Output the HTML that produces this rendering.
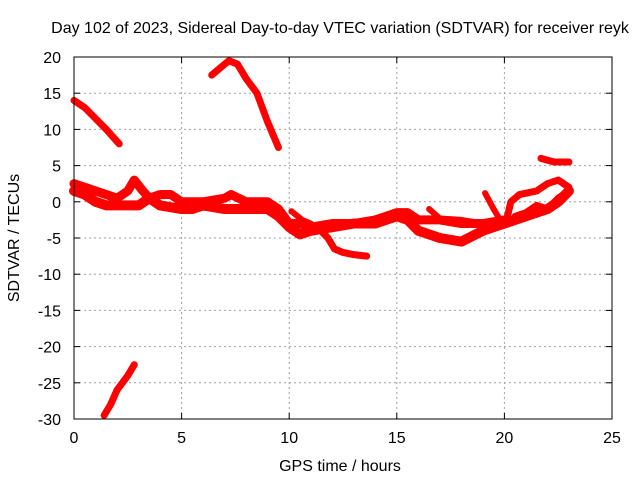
<!DOCTYPE html>
<html><head><meta charset="utf-8"><style>
body{margin:0;background:#fff;width:640px;height:480px;overflow:hidden}
svg{font-family:"Liberation Sans",sans-serif;font-size:16px}
</style></head><body>
<svg id="c" width="640" height="480">
<text x="340" y="33" text-anchor="middle">Day 102 of 2023, Sidereal Day-to-day VTEC variation (SDTVAR) for receiver reyk</text>
<text x="340" y="471" text-anchor="middle">GPS time / hours</text>
<text transform="translate(19,238) rotate(-90)" text-anchor="middle">SDTVAR / TECUs</text>
<g id="grid"></g><g id="ticks"></g><g id="marks"></g>
<rect x="74" y="57" width="538" height="362" fill="none" stroke="#000" stroke-width="1"/>
</svg>
<script>
const xTicks=[0,5,10,15,20,25];
const yTicks=[20,15,10,5,0,-5,-10,-15,-20,-25,-30];
const trackMainUpperH=[0,0.5,1,1.5,2,2.5,2.8,3.2,3.5,4,4.5,5,5.5,6,7,7.3,8,9,9.5,10,10.5,11,12,13,14,15,15.5,16,17,18,19,20];
const trackMainUpperV=[2.5,2,1.5,1,0.5,1.5,3,1.5,0.5,1,1,0,0,0,0.5,1,0,0,-1,-3,-3,-3.5,-3,-3,-2.5,-1.5,-1.5,-2.5,-2.5,-3,-3,-2.5];
const trackMainLowerH=[0,0.5,1,1.5,2,2.5,3,3.5,4,5,5.5,6,7,8,9,9.5,10,10.5,11,12,13,14,15,15.5,16,17,18,19,20,21,22,22.5,23];
const trackMainLowerV=[1.5,1,0,-0.5,-0.5,-0.5,-0.5,0.5,-0.5,-1,-1,-0.5,-1,-1,-1,-2,-3.5,-4.5,-4,-3.5,-3,-3,-2,-2.5,-4,-5,-5.5,-4,-3,-2,-1,0,1.5];
const branchDipH=[11.3,11.8,12.1,12.5,13,13.6];
const branchDipV=[-3.5,-5,-6.5,-7,-7.3,-7.5];
const branchTenH=[10.1,10.6,11];
const branchTenV=[-1.3,-2.5,-3];
const branchSixteenH=[16.5,17,18,19];
const branchSixteenV=[-1,-2.3,-2.5,-3];
const spikeH=[19.1,19.5,19.8,20.1];
const spikeV=[1.2,-1,-2.5,-3];
const loopUpperH=[20.1,20.3,20.7,21.5,22,22.5,23];
const loopUpperV=[-2.5,0,1,1.5,2.5,3,2];
const loopLowerH=[20.5,21,21.5,22,22.5,23];
const loopLowerV=[-2,-1.5,-0.5,-1,0.5,1.5];
const topRightH=[21.7,22.3,23];
const topRightV=[6,5.5,5.5];
const topLeftH=[0,0.5,1,1.5,2.1];
const topLeftV=[14,13,11.5,10,8];
const peakH=[6.4,6.8,7.2,7.6,8,8.5,9,9.5];
const peakV=[17.5,18.5,19.5,19,17,15,11,7.5];
const bottomH=[1.4,1.7,2,2.5,2.8];
const bottomV=[-29.5,-28,-26,-24,-22.5];
const X=h=>74+h*538/25, Y=v=>57+(20-v)*362/50;
const NS="http://www.w3.org/2000/svg";
const g=document.getElementById('grid'),t=document.getElementById('ticks'),m=document.getElementById('marks');
function mk(tag,attrs,p){const e=document.createElementNS(NS,tag);for(const k in attrs)e.setAttribute(k,attrs[k]);p.appendChild(e);return e;}
xTicks.forEach(v=>{const x=X(v);
 if(v>0&&v<25){const l=mk('line',{x1:x,x2:x,y1:57,y2:419,stroke:'#a0a0a0','stroke-dasharray':'2,3'},g);
 
 }
 mk('line',{x1:x,x2:x,y1:419,y2:413,stroke:'#000'},t);mk('line',{x1:x,x2:x,y1:57,y2:63,stroke:'#000'},t);
 const tx=mk('text',{x:x,y:443,'text-anchor':'middle'},t);tx.textContent=v;
 
 });
yTicks.forEach(v=>{const y=Y(v);
 if(v<20&&v>-30){const l=mk('line',{x1:74,x2:612,y1:y,y2:y,stroke:'#a0a0a0','stroke-dasharray':'2,3'},g);
 
 }
 mk('line',{x1:74,x2:80,y1:y,y2:y,stroke:'#000'},t);mk('line',{x1:612,x2:606,y1:y,y2:y,stroke:'#000'},t);
 const tx=mk('text',{x:61,y:y+6,'text-anchor':'end'},t);tx.textContent=v;
 
 });
const series=[[trackMainUpperH,trackMainUpperV,9],[trackMainLowerH,trackMainLowerV,10],[branchDipH,branchDipV,7],[branchTenH,branchTenV,6],[branchSixteenH,branchSixteenV,6],[spikeH,spikeV,6],[loopUpperH,loopUpperV,7],[loopLowerH,loopLowerV,7],[topRightH,topRightV,7],[topLeftH,topLeftV,7],[peakH,peakV,7],[bottomH,bottomV,7]];
series.forEach(([hs,vs,w])=>{
 const p=mk('polyline',{points:hs.map((h,i)=>X(h)+','+Y(vs[i])).join(' '),fill:'none',stroke:'#ff0000','stroke-width':w,'stroke-linejoin':'round','stroke-linecap':'round'},m);
 
 
});
</script>
</body></html>
